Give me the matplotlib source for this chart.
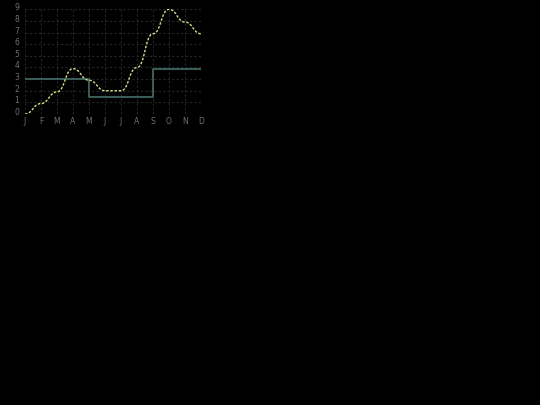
import matplotlib
matplotlib.use("Agg")
import matplotlib.pyplot as plt
from matplotlib.path import Path
from matplotlib.patches import PathPatch
from matplotlib.transforms import ScaledTranslation

months = ["J", "F", "M", "A", "M", "J", "J", "A", "S", "O", "N", "D"]
trend = [0.0, 0.9, 1.9, 3.9, 2.9, 2.0, 2.0, 4.0, 6.9, 9.0, 7.9, 6.9]
step = [3.0, 3.0, 3.0, 3.0, 1.5, 1.5, 1.5, 1.5, 3.9, 3.9, 3.9, 3.9]
yticks = list(range(10))

fig = plt.figure(figsize=(5.4, 4.05), dpi=100, facecolor="black")
ax = fig.add_axes([25 / 540, 1 - 114 / 405, 176 / 540, (114 - 9.3) / 405])
ax.set_facecolor("black")

x = list(range(len(months)))
ax.set_xlim(0, len(months) - 1)
ax.set_ylim(0, 9)

# grid
ax.set_xticks(x)
ax.set_xticklabels(months)
ax.set_yticks(yticks)
ax.set_yticklabels([str(v) for v in yticks])
ax.grid(True, color="#262626", linestyle=(0, (2, 2)), linewidth=0.8)
ax.set_axisbelow(True)
for s in ax.spines.values():
    s.set_visible(False)
ax.tick_params(length=0, colors="#707070", labelsize=5.5)
ax.tick_params(axis="y", pad=4)
ax.tick_params(axis="x", pad=2)
off = ScaledTranslation(0, 2.5 / 100, fig.dpi_scale_trans)
for lab in ax.get_yticklabels():
    lab.set_transform(lab.get_transform() + off)

# step line
ax.plot(x, step, drawstyle="steps-post", color="#3b5e5c", linewidth=1.4, zorder=2)

# bump curve (horizontal tangents at each point)
verts = [(x[0], trend[0])]
codes = [Path.MOVETO]
for i in range(1, len(x)):
    xm = (x[i - 1] + x[i]) / 2
    verts += [(xm, trend[i - 1]), (xm, trend[i]), (x[i], trend[i])]
    codes += [Path.CURVE4] * 3
patch = PathPatch(Path(verts, codes), facecolor="none", edgecolor="#d2de86",
                  linewidth=1.0, linestyle=(0, (1.8, 1.2)), zorder=3)
ax.add_patch(patch)

fig.savefig("out.png", dpi=100, facecolor="black")
